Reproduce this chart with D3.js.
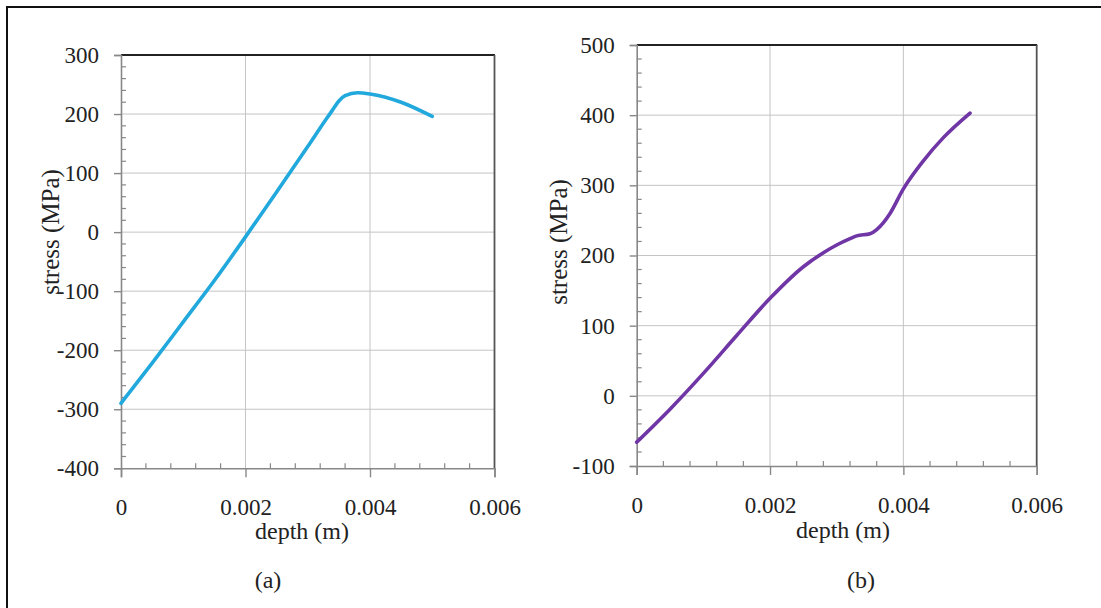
<!DOCTYPE html>
<html><head><meta charset="utf-8">
<script src="https://cdn.jsdelivr.net/npm/d3@7"></script>
<style>body{margin:0;background:#fff}svg{display:block}</style></head>
<body>
<svg id="c" width="1101" height="608"></svg>
<script>
// ---- data ----
const depthA  = [0, 0.0005, 0.001, 0.0015, 0.002, 0.0025, 0.003, 0.0033, 0.0034, 0.0035, 0.0036, 0.0038, 0.004, 0.0045, 0.005];
const stressA = [-290, -222, -152, -82, -8, 68, 145, 192, 207, 222, 231, 236, 234, 220, 196];
const depthB  = [0, 0.0005, 0.001, 0.0015, 0.002, 0.0025, 0.0028, 0.003, 0.0032, 0.0033, 0.0035, 0.0036, 0.0038, 0.004, 0.0043, 0.0046, 0.005];
const stressB = [-66, -19, 32, 86, 139, 184, 204, 215, 224, 228, 231, 237, 260, 295, 335, 368, 403];
const xTickValues  = [0, 0.002, 0.004, 0.006];
const yTickValuesA = [-400, -300, -200, -100, 0, 100, 200, 300];
const yTickValuesB = [-100, 0, 100, 200, 300, 400, 500];
const xTitle = "depth (m)";
const yTitle = "stress (MPa)";
const panelLabels = ["(a)", "(b)"];

const svg = d3.select("#c");
const FONT = "'Liberation Serif','Times New Roman',serif";

// outer frame
svg.append("rect").attr("x", 7).attr("y", 7).attr("width", 1120).attr("height", 640)
  .attr("fill", "none").attr("stroke", "#111").attr("stroke-width", 2);

function panel(cfg) {
  const x = d3.scaleLinear().domain([0, 0.006]).range([cfg.x0, cfg.x1]);
  const y = d3.scaleLinear().domain(cfg.yDomain).range([cfg.y1, cfg.y0]);
  const g = svg.append("g");

  // gridlines
  g.append("g").selectAll("line").data(xTickValues.slice(1, -1)).join("line")
    .attr("x1", d => x(d)).attr("x2", d => x(d)).attr("y1", cfg.y0).attr("y2", cfg.y1)
    .attr("stroke", "#c4c4c4").attr("stroke-width", 1);
  g.append("g").selectAll("line").data(cfg.yTicks.slice(1, -1)).join("line")
    .attr("x1", cfg.x0).attr("x2", cfg.x1).attr("y1", d => y(d)).attr("y2", d => y(d))
    .attr("stroke", "#c4c4c4").attr("stroke-width", 1);

  // minor ticks (inside)
  const xMinor = d3.range(0, 0.0060001, 0.0004).filter(v => Math.abs((v / 0.002) - Math.round(v / 0.002)) > 1e-6);
  g.append("g").selectAll("line").data(xMinor).join("line")
    .attr("x1", d => x(d)).attr("x2", d => x(d)).attr("y1", cfg.y1).attr("y2", cfg.y1 - 5)
    .attr("stroke", "#888").attr("stroke-width", 1.2);
  const yMinor = d3.range(cfg.yDomain[0], cfg.yDomain[1] + 0.1, 20).filter(v => v % 100 !== 0);
  g.append("g").selectAll("line").data(yMinor).join("line")
    .attr("x1", cfg.x0).attr("x2", cfg.x0 + 5).attr("y1", d => y(d)).attr("y2", d => y(d))
    .attr("stroke", "#888").attr("stroke-width", 1.2);

  // top and right borders
  g.append("line").attr("x1", cfg.x0).attr("x2", cfg.x1 + 0.5).attr("y1", cfg.y0).attr("y2", cfg.y0)
    .attr("stroke", "#222").attr("stroke-width", 2.2);
  g.append("line").attr("x1", cfg.x1).attr("x2", cfg.x1).attr("y1", cfg.y0).attr("y2", cfg.y1)
    .attr("stroke", "#555").attr("stroke-width", 1.8);

  // axes
  const xAxis = d3.axisBottom(x).tickValues(xTickValues).tickSize(9).tickFormat(d => String(d));
  const xg = g.append("g").attr("transform", `translate(0,${cfg.y1})`).call(xAxis)
    .attr("font-family", FONT).attr("font-size", 23);
  xg.select(".domain").attr("stroke", "#888").attr("stroke-width", 1.6);
  xg.selectAll(".tick line").attr("stroke", "#888").attr("stroke-width", 1.4);
  xg.selectAll(".tick text").style("font-family", FONT).style("font-size", "23px").attr("fill", "#222")
    .attr("y", cfg.xLabDy).attr("dy", "0.35em");

  const yAxis = d3.axisLeft(y).tickValues(cfg.yTicks).tickSize(7).tickFormat(d => String(d));
  const yg = g.append("g").attr("transform", `translate(${cfg.x0},0)`).call(yAxis)
    .attr("font-family", FONT).attr("font-size", 23);
  yg.select(".domain").attr("stroke", "#888").attr("stroke-width", 1.6);
  yg.selectAll(".tick line").attr("stroke", "#888").attr("stroke-width", 1.4);
  yg.selectAll(".tick text").style("font-family", FONT).style("font-size", "23px").attr("fill", "#222")
    .attr("x", -cfg.yLabGap);

  // curve
  const line = d3.line().x(d => x(d[0])).y(d => y(d[1])).curve(d3.curveMonotoneX);
  g.append("path").datum(d3.zip(cfg.xs, cfg.ys)).attr("d", line)
    .attr("fill", "none").attr("stroke", cfg.color).attr("stroke-width", 3.6)
    .attr("stroke-linecap", "round").attr("stroke-linejoin", "round");

  // titles
  g.append("text").attr("x", cfg.xTitleX).attr("y", cfg.xTitleY).attr("text-anchor", "middle")
    .attr("dy", "0.35em").style("font-family", FONT).style("font-size", "24px").attr("fill", "#222").text(xTitle);
  g.append("text").attr("transform", `translate(${cfg.yTitleX},${cfg.yTitleY}) rotate(-90)`)
    .attr("text-anchor", "middle").attr("dy", "0.35em").style("font-family", FONT)
    .style("font-size", "25px").attr("fill", "#222").text(yTitle);
  g.append("text").attr("x", cfg.labX).attr("y", cfg.labY).attr("text-anchor", "middle")
    .attr("dy", "0.35em").style("font-family", FONT).style("font-size", "24px").attr("fill", "#222").text(cfg.label);
}

panel({ x0: 121, x1: 494.5, y0: 55, y1: 468.3, yDomain: [-400, 300], yTicks: yTickValuesA,
  xs: depthA, ys: stressA, color: "#21a8dc", xLabDy: 39, yLabGap: 22,
  xTitleX: 302, xTitleY: 531, yTitleX: 50, yTitleY: 232, labX: 268, labY: 580, label: panelLabels[0] });

panel({ x0: 636.7, x1: 1036.7, y0: 45, y1: 466, yDomain: [-100, 500], yTicks: yTickValuesB,
  xs: depthB, ys: stressB, color: "#7136a6", xLabDy: 39, yLabGap: 22,
  xTitleX: 843, xTitleY: 530, yTitleX: 558, yTitleY: 242, labX: 861, labY: 580, label: panelLabels[1] });
</script>
</body></html>
